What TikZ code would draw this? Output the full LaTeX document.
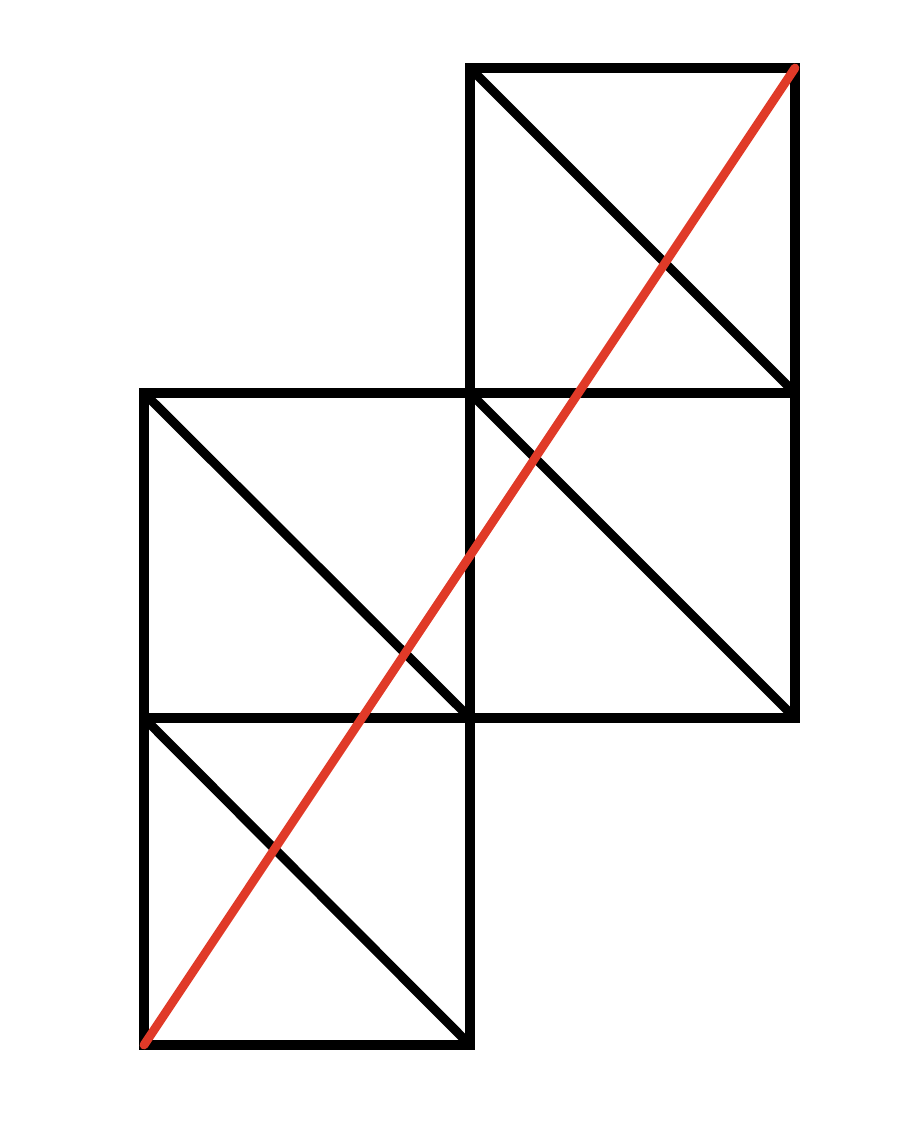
\documentclass[tikz,border=0pt]{standalone}
\usepackage{tikz}
\usetikzlibrary{calc}
\definecolor{cutred}{RGB}{224,58,40}
\tikzset{
  cell/.style={draw=black, line width=2.6pt},
  slash/.style={draw=black, line width=2.6pt},
  cut/.style={draw=cutred, line width=2.5pt, line cap=round}
}
\begin{document}
\begin{tikzpicture}
	\useasboundingbox (0,0) rectangle (9.16,11.48);
	%Corners
	\coordinate (A0) at (1.44,1.03);
	\coordinate (B0) at (4.70,1.03);
	\coordinate (A1) at (1.44,4.30);
	\coordinate (B1) at (4.70,4.30);
	\coordinate (C1) at (7.95,4.30);
	\coordinate (A2) at (1.44,7.55);
	\coordinate (B2) at (4.70,7.55);
	\coordinate (C2) at (7.95,7.55);
	\coordinate (B3) at (4.70,10.80);
	\coordinate (C3) at (7.95,10.80);
	%Squares
	\draw[cell] (A0) rectangle (B1);
	\draw[cell] (A1) rectangle (B2);
	\draw[cell] (B1) rectangle (C2);
	\draw[cell] (B2) rectangle (C3);
	%Diagonals
	\draw[slash] (A1) -- (B0);
	\draw[slash] (A2) -- (B1);
	\draw[slash] (B2) -- (C1);
	\draw[slash] (B3) -- (C2);
	%Red line
	\draw[cut] (A0) -- (C3);
\end{tikzpicture}
\end{document}
